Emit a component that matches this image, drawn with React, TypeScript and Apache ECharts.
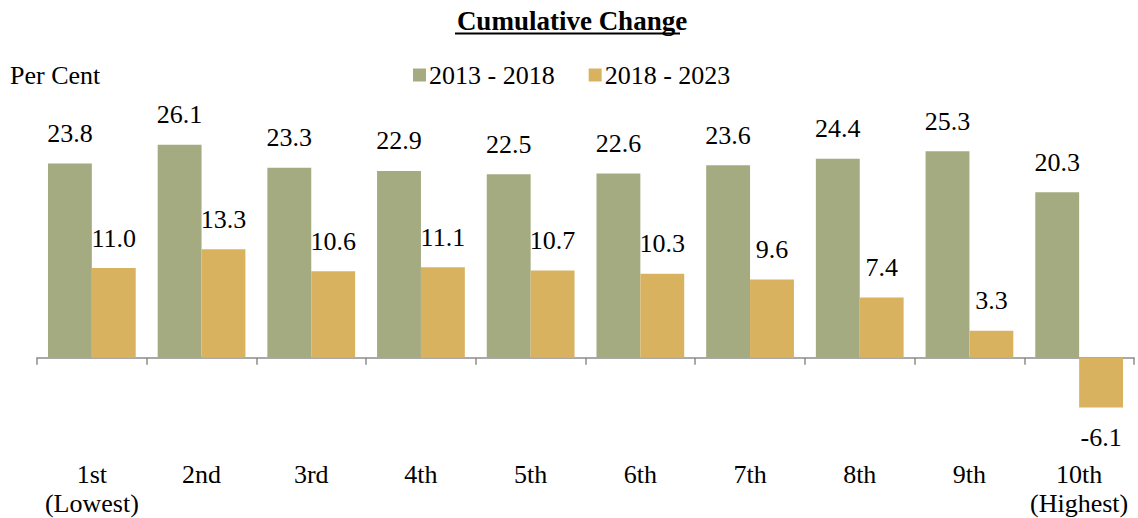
import React, { useEffect, useRef } from "react";
import * as echarts from "echarts";

const categories = ["1st\n(Lowest)", "2nd", "3rd", "4th", "5th", "6th", "7th", "8th", "9th", "10th\n(Highest)"];
const series2013_2018 = [23.8, 26.1, 23.3, 22.9, 22.5, 22.6, 23.6, 24.4, 25.3, 20.3];
const series2018_2023 = [11.0, 13.3, 10.6, 11.1, 10.7, 10.3, 9.6, 7.4, 3.3, -6.1];
const seriesNames = ["2013 - 2018", "2018 - 2023"];
const colors = ["#A4AB81", "#D9B25F"];

const FONT = "Times New Roman";

function toData(values: number[]) {
  return values.map((v) => ({
    value: v,
    label: { position: v < 0 ? "bottom" : "top" },
  }));
}

export default function App() {
  const ref = useRef<HTMLDivElement>(null);
  useEffect(() => {
    if (!ref.current) return;
    const chart = echarts.init(ref.current, undefined, { renderer: "svg" });
    const labelCfg = {
      show: true,
      fontFamily: FONT,
      fontSize: 26,
      color: "#000",
      distance: 17,
      formatter: (p: any) => Number(p.value).toFixed(1),
    };
    chart.setOption({
      animation: false,
      textStyle: { fontFamily: FONT },
      title: {
        text: "Cumulative Change",
        left: 567,
        top: 2,
        textAlign: "center",
        textStyle: { fontFamily: FONT, fontSize: 27, fontWeight: "bold", color: "#000" },
      },
      graphic: [
        {
          type: "line",
          shape: { x1: 455, y1: 33.5, x2: 680, y2: 33.5 },
          style: { stroke: "#000", lineWidth: 2 },
        },
        {
          type: "text",
          left: 10,
          top: 62,
          style: { text: "Per Cent", fontFamily: FONT, fontSize: 26, fill: "#000" },
        },
      ],
      legend: {
        left: 408,
        top: 57,
        itemWidth: 13,
        itemHeight: 13,
        itemGap: 34,
        icon: "rect",
        data: seriesNames,
        textStyle: { fontFamily: FONT, fontSize: 26, color: "#000", padding: [0, 0, 0, -2] },
      },
      grid: { left: 37, right: 4, top: 113, bottom: 68, containLabel: false },
      xAxis: [
        {
          type: "category",
          data: categories,
          position: "bottom",
          axisLine: { onZero: true, lineStyle: { color: "#8c8c8c", width: 1.5 } },
          axisTick: { show: true, length: 7, lineStyle: { color: "#8c8c8c", width: 1.5 } },
          axisLabel: { show: false },
          splitLine: { show: false },
        },
        {
          type: "category",
          data: categories,
          position: "bottom",
          axisLine: { show: false, onZero: false },
          axisTick: { show: false },
          axisLabel: {
            show: true,
            margin: 10,
            fontFamily: FONT,
            fontSize: 26,
            lineHeight: 29,
            color: "#000",
            interval: 0,
          },
          splitLine: { show: false },
        },
      ],
      yAxis: {
        type: "value",
        min: -11.3,
        max: 30,
        show: false,
        splitLine: { show: false },
      },
      series: [
        {
          name: seriesNames[0],
          type: "bar",
          xAxisIndex: 0,
          data: toData(series2013_2018),
          itemStyle: { color: colors[0] },
          barGap: "0%",
          barCategoryGap: "20%",
          label: labelCfg,
        },
        {
          name: seriesNames[1],
          type: "bar",
          xAxisIndex: 0,
          data: toData(series2018_2023),
          itemStyle: { color: colors[1] },
          barGap: "0%",
          barCategoryGap: "20%",
          label: labelCfg,
        },
      ],
    });
    return () => chart.dispose();
  }, []);
  return <div ref={ref} style={{ width: 1138, height: 518, position: "absolute", left: 0, top: 0 }} />;
}
